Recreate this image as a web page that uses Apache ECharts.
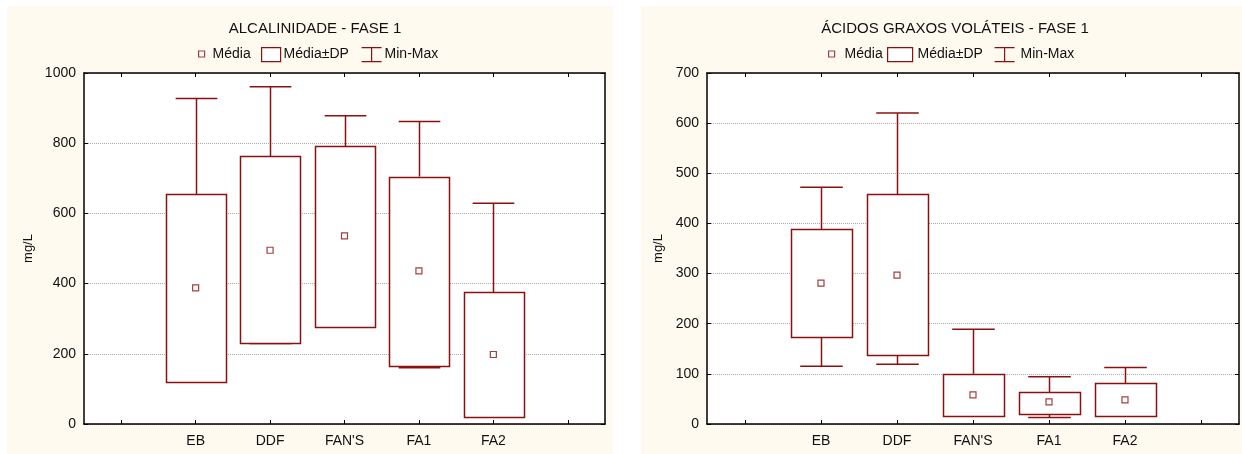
<!DOCTYPE html>
<html>
<head>
<meta charset="utf-8">
<script src="https://cdn.jsdelivr.net/npm/echarts@6/dist/echarts.min.js"></script>
<style>
html,body{margin:0;padding:0;background:#fff;}
#c{width:1242px;height:454px;}
</style>
</head>
<body>
<div id="c"></div>
<script>
// ---- data ----
const categories = ['EB', 'DDF', "FAN'S", 'FA1', 'FA2'];

// Alcalinidade - Fase 1
const alcMean  = [388, 495, 536, 436, 198];
const alcLower = [119, 229, 277, 167, 21];   // Média - DP
const alcUpper = [654, 763, 792, 705, 376];  // Média + DP
const alcMin   = [119, 229, 277, 160, 19];
const alcMax   = [927, 961, 878, 862, 629];

// Ácidos graxos voláteis - Fase 1
const agvMean  = [281, 297, 58, 44, 48];
const agvLower = [174, 136, 16.5, 21, 16];
const agvUpper = [389, 458, 100, 64, 81.5];
const agvMin   = [115, 119, 16.5, 13, 16];
const agvMax   = [472, 620, 189, 94, 112.6];

const titles = ['ALCALINIDADE - FASE 1', 'ÁCIDOS GRAXOS VOLÁTEIS - FASE 1'];
const yTicksAlc = {min: 0, max: 1000, interval: 200};
const yTicksAgv = {min: 0, max: 700, interval: 100};

// ---- styling ----
const C = '#8B1010';
const FONT = '"Liberation Sans", Arial, sans-serif';
const CREAM = '#FFFAF0';
const TXT = '#111';
const axisCats = [''].concat(categories, ['']);

function boxData(lo, hi) { return lo.map((v, i) => [i + 1, v, hi[i]]); }
function whiskerData(mn, lo, hi, mx) { return mn.map((v, i) => [i + 1, v, lo[i], hi[i], mx[i]]); }
function meanData(m) { return m.map((v, i) => [i + 1, v]); }

function renderBox(params, api) {
  const x = api.value(0);
  const lo = api.coord([x, api.value(1)]);
  const hi = api.coord([x, api.value(2)]);
  const w = api.size([1, 0])[0] * 0.8;
  return {
    type: 'rect',
    shape: {x: Math.round(lo[0] - w / 2) + 0.5, y: Math.round(hi[1]) + 0.5, width: Math.round(w), height: Math.round(lo[1] - hi[1])},
    style: {fill: '#fff', stroke: C, lineWidth: 1.5}
  };
}
function renderWhisker(params, api) {
  const x = api.value(0);
  const pMin = api.coord([x, api.value(1)]);
  const pLo = api.coord([x, api.value(2)]);
  const pHi = api.coord([x, api.value(3)]);
  const pMax = api.coord([x, api.value(4)]);
  const cw = api.size([1, 0])[0] * 0.56;
  const cx = Math.round(pMin[0]) + 0.5;
  const st = {stroke: C, lineWidth: 1.5};
  const children = [];
  children.push({type: 'line', shape: {x1: cx, y1: pMax[1], x2: cx, y2: pHi[1]}, style: st});
  children.push({type: 'line', shape: {x1: cx, y1: pLo[1], x2: cx, y2: pMin[1]}, style: st});
  children.push({type: 'line', shape: {x1: cx - cw / 2, y1: pMax[1], x2: cx + cw / 2, y2: pMax[1]}, style: st});
  children.push({type: 'line', shape: {x1: cx - cw / 2, y1: pMin[1], x2: cx + cw / 2, y2: pMin[1]}, style: st});
  return {type: 'group', children: children};
}

const grids = [
  {left: 84, top: 73, width: 521, height: 351, show: true, backgroundColor: '#fff', borderWidth: 0},
  {left: 707, top: 73, width: 532, height: 351, show: true, backgroundColor: '#fff', borderWidth: 0}
];

function xAx(gi, pos) {
  return {
    type: 'category', gridIndex: gi, position: pos, data: axisCats, boundaryGap: true,
    axisLine: {show: true, onZero: false, lineStyle: {color: '#000', width: 1.5}},
    axisTick: {show: true, alignWithLabel: true, inside: true, length: 4, lineStyle: {color: '#000'}},
    axisLabel: {show: pos === 'bottom', color: TXT, fontFamily: FONT, fontSize: 14, margin: 10, interval: 0},
    splitLine: {show: false}
  };
}
function yAx(gi, pos, t, nameGap) {
  return {
    type: 'value', gridIndex: gi, position: pos, min: t.min, max: t.max, interval: t.interval,
    name: pos === 'left' ? 'mg/L' : '', nameLocation: 'middle', nameRotate: 90, nameGap: nameGap,
    nameTextStyle: {color: TXT, fontFamily: FONT, fontSize: 13},
    axisLine: {show: true, lineStyle: {color: '#000', width: 1.5}},
    axisTick: {show: true, inside: true, length: 4, lineStyle: {color: '#000'}},
    axisLabel: {show: pos === 'left', color: TXT, fontFamily: FONT, fontSize: 14, margin: 8, formatter: v => String(v)},
    splitLine: {show: pos === 'left', lineStyle: {color: '#aaa', type: [1, 1], width: 1}}
  };
}

function legendItem(name, left, top, w, h, icon, extraStyle, pad) {
  return {
    left: left, top: top, itemWidth: w, itemHeight: h, itemGap: 0, selectedMode: false,
    textStyle: {color: TXT, fontFamily: FONT, fontSize: 14, padding: [0, 0, 0, pad]},
    data: [{name: name, icon: icon, itemStyle: Object.assign({color: '#fff', borderColor: C, borderWidth: 1.2}, extraStyle || {})}]
  };
}
const IBEAM = 'path://M0,0L20,0M10,0L10,14M0,14L20,14';

const option = {
  animation: false,
  backgroundColor: '#fff',
  graphic: [
    {type: 'rect', left: 7, top: 6, shape: {width: 606, height: 448}, style: {fill: CREAM}, z: -10},
    {type: 'rect', left: 641, top: 6, shape: {width: 601, height: 448}, style: {fill: CREAM}, z: -10}
  ],
  title: [
    {text: titles[0], left: 310, top: 16, textAlign: 'center', textStyle: {color: TXT, fontFamily: FONT, fontSize: 15, fontWeight: 'normal'}},
    {text: titles[1], left: 950, top: 16, textAlign: 'center', textStyle: {color: TXT, fontFamily: FONT, fontSize: 15, fontWeight: 'normal'}}
  ],
  legend: [
    legendItem('Média', 193, 42, 6, 6, 'rect', null, 3),
    legendItem('Média±DP', 256, 42, 19, 14, 'rect', null, -2),
    legendItem('Min-Max', 356, 42, 20, 14, IBEAM, {color: 'transparent'}, -2),
    legendItem('Média', 823, 42, 6, 6, 'rect', null, 5),
    legendItem('Média±DP', 882, 42, 25, 14, 'rect', null, 0),
    legendItem('Min-Max', 989, 42, 22, 14, IBEAM, {color: 'transparent'}, 0)
  ],
  grid: grids,
  xAxis: [xAx(0, 'bottom'), xAx(0, 'top'), xAx(1, 'bottom'), xAx(1, 'top')],
  yAxis: [yAx(0, 'left', yTicksAlc, 49), yAx(0, 'right', yTicksAlc, 0), yAx(1, 'left', yTicksAgv, 42), yAx(1, 'right', yTicksAgv, 0)],
  series: [
    {name: 'Min-Max', type: 'custom', xAxisIndex: 0, yAxisIndex: 0, renderItem: renderWhisker, encode: {x: 0, y: [1, 2, 3, 4]}, data: whiskerData(alcMin, alcLower, alcUpper, alcMax), z: 2, itemStyle: {color: C}},
    {name: 'Média±DP', type: 'custom', xAxisIndex: 0, yAxisIndex: 0, renderItem: renderBox, encode: {x: 0, y: [1, 2]}, data: boxData(alcLower, alcUpper), z: 3, itemStyle: {color: C}},
    {name: 'Média', type: 'scatter', xAxisIndex: 0, yAxisIndex: 0, symbol: 'rect', symbolSize: 6, data: meanData(alcMean), z: 4, itemStyle: {color: '#fff', borderColor: C, borderWidth: 1.2}},
    {name: 'Min-Max', type: 'custom', xAxisIndex: 2, yAxisIndex: 2, renderItem: renderWhisker, encode: {x: 0, y: [1, 2, 3, 4]}, data: whiskerData(agvMin, agvLower, agvUpper, agvMax), z: 2, itemStyle: {color: C}},
    {name: 'Média±DP', type: 'custom', xAxisIndex: 2, yAxisIndex: 2, renderItem: renderBox, encode: {x: 0, y: [1, 2]}, data: boxData(agvLower, agvUpper), z: 3, itemStyle: {color: C}},
    {name: 'Média', type: 'scatter', xAxisIndex: 2, yAxisIndex: 2, symbol: 'rect', symbolSize: 6, data: meanData(agvMean), z: 4, itemStyle: {color: '#fff', borderColor: C, borderWidth: 1.2}}
  ]
};
const chart = echarts.init(document.getElementById('c'), null, {renderer: 'canvas'});
chart.setOption(option);
</script>
</body>
</html>
